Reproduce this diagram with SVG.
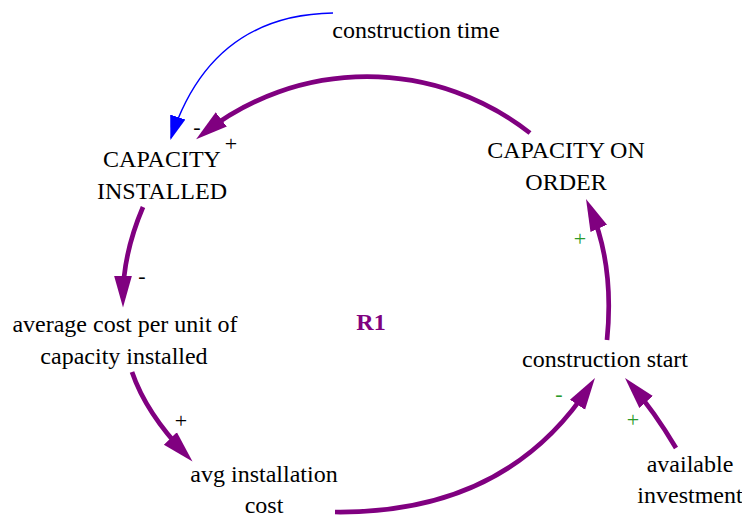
<svg xmlns="http://www.w3.org/2000/svg" width="742" height="518" viewBox="0 0 742 518">
  <style>
    text { font-family: 'Liberation Serif', 'Tinos', 'Times New Roman', 'Noto Serif', 'DejaVu Serif', serif; }
    .lbl { font-size: 24px; fill: #000; text-anchor: middle; }
    .sign { font-size: 22px; text-anchor: middle; }
    .sign-k { fill: #000; }
    .sign-g { fill: #2a9a2a; }
    .loop { font-size: 24px; font-weight: bold; fill: #800080; text-anchor: middle; }
    .link { fill: none; stroke: #800080; stroke-width: 4.7; marker-end: url(#head); }
    .link-thin { fill: none; stroke: #0000ff; stroke-width: 1.5; marker-end: url(#head-thin); }
  </style>
  <defs>
    <marker id="head" markerUnits="userSpaceOnUse" viewBox="0 -10 33 20" refX="22" refY="0" markerWidth="33" markerHeight="20" orient="auto">
      <path d="M0,-9 L32,0 L0,9 z" fill="#800080"/>
    </marker>
    <marker id="head-thin" markerUnits="userSpaceOnUse" viewBox="0 -9 25 18" refX="22" refY="0" markerWidth="25" markerHeight="18" orient="auto">
      <path d="M0,-8 L24,0 L0,8 z" fill="#0000ff"/>
    </marker>
  </defs>

  <!-- causal links -->
  <g id="links">
    <path class="link-thin" d="M333,13 Q211,15 171,138"/>
    <path class="link" d="M530,133 A264,264 0 0 0 204,133"/>
    <path class="link" d="M143,207 Q123,254 123,297.5"/>
    <path class="link" d="M132,372 Q146,413 185.6,454.3"/>
    <path class="link" d="M335,512 Q506,514 589.5,386.3"/>
    <path class="link" d="M676,448 Q654,411 631.6,385.5"/>
    <path class="link" d="M607,340 Q614.5,264.6 590,208.2"/>
  </g>

  <!-- polarity signs -->
  <g id="polarities">
    <text class="sign sign-k" x="197" y="133.5">-</text>
    <text class="sign sign-k" x="231" y="150.5">+</text>
    <text class="sign sign-k" x="142" y="282.5">-</text>
    <text class="sign sign-k" x="181" y="427.5">+</text>
    <text class="sign sign-g" x="559" y="400.5">-</text>
    <text class="sign sign-g" x="633" y="426.5">+</text>
    <text class="sign sign-g" x="580" y="245.5">+</text>
  </g>

  <g id="construction-time">
    <text class="lbl" x="416" y="38">construction time</text>
  </g>
  <g id="capacity-installed">
    <text class="lbl" x="162" y="167">CAPACITY</text>
    <text class="lbl" x="162" y="199">INSTALLED</text>
  </g>
  <g id="capacity-on-order">
    <text class="lbl" x="566" y="158">CAPACITY ON</text>
    <text class="lbl" x="566" y="190">ORDER</text>
  </g>
  <g id="average-cost">
    <text class="lbl" x="125" y="332">average cost per unit of</text>
    <text class="lbl" x="124" y="364">capacity installed</text>
  </g>
  <g id="avg-installation-cost">
    <text class="lbl" x="264" y="482">avg installation</text>
    <text class="lbl" x="264" y="513">cost</text>
  </g>
  <g id="construction-start">
    <text class="lbl" x="605" y="367">construction start</text>
  </g>
  <g id="available-investment">
    <text class="lbl" x="690" y="472">available</text>
    <text class="lbl" x="690" y="503">investment</text>
  </g>
  <g id="loop-r1">
    <text class="loop" x="371" y="330">R1</text>
  </g>
</svg>
